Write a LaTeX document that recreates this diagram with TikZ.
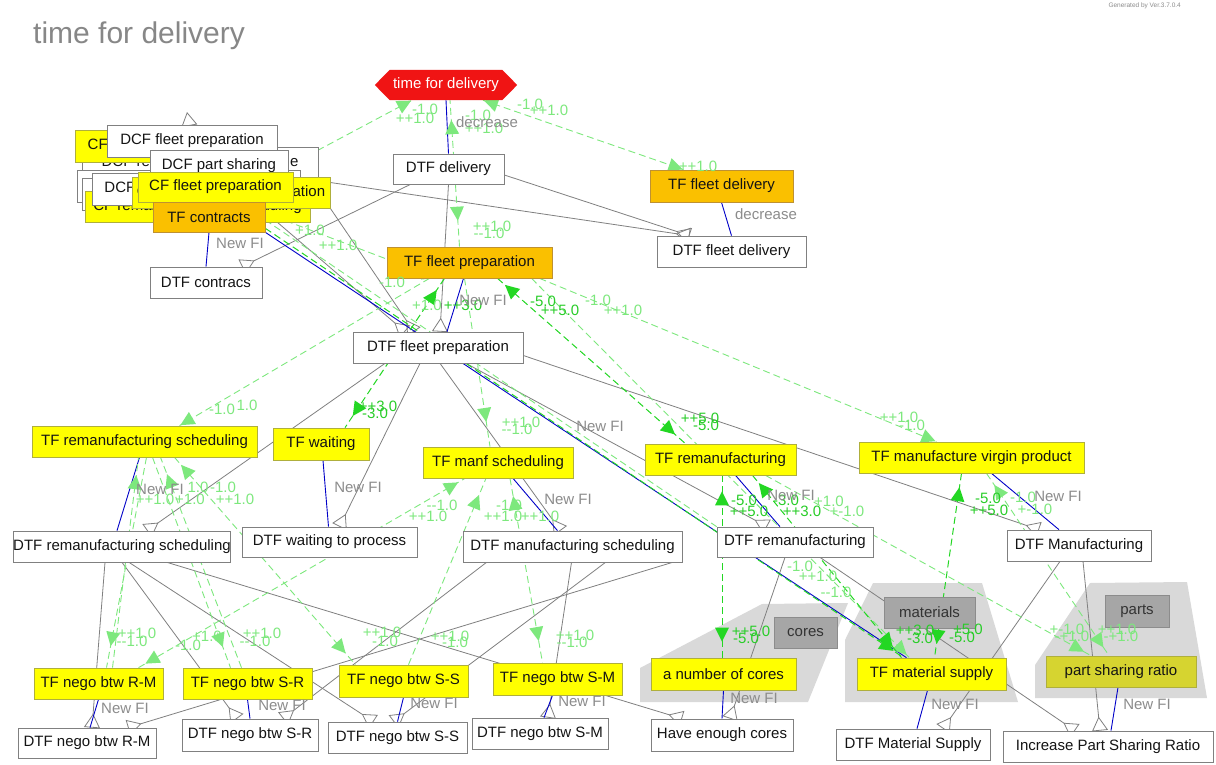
\documentclass[tikz,border=0pt]{standalone}
\usepackage{fontspec}
\setmainfont{Liberation Sans}
\usetikzlibrary{arrows.meta,decorations.markings}
\pgfdeclarelayer{grouplayer}
\pgfdeclarelayer{edgelayer}
\pgfdeclarelayer{hexlayer}
\pgfsetlayers{grouplayer,edgelayer,hexlayer,main}
\definecolor{yel}{RGB}{255,255,0}
\definecolor{yelb}{RGB}{175,175,60}
\definecolor{org}{RGB}{250,192,0}
\definecolor{orgb}{RGB}{190,145,50}
\definecolor{olive}{RGB}{214,212,48}
\definecolor{boxb}{RGB}{128,128,128}
\definecolor{edgegray}{RGB}{128,128,128}
\definecolor{fiblue}{RGB}{0,0,200}
\definecolor{lgr}{RGB}{125,232,125}
\definecolor{bgr}{RGB}{35,215,35}
\definecolor{bgrtxt}{RGB}{40,205,40}
\definecolor{labgray}{RGB}{140,140,140}
\definecolor{grp}{RGB}{217,217,217}
\definecolor{grpbox}{RGB}{166,166,166}
\definecolor{grpboxb}{RGB}{140,140,140}
\definecolor{hexred}{RGB}{240,20,20}
\definecolor{titlegray}{RGB}{135,135,135}
\newcommand\ndfont{\fontsize{15}{17}\selectfont}
\newcommand\lab[4]{\node[#1] (#2) at (#3) {#4};}
\tikzset{
  box/.style={draw=boxb, line width=0.7pt, inner sep=0pt, minimum height=31pt, font=\ndfont, text=black!92},
  wbox/.style={box, fill=white},
  ybox/.style={box, fill=yel, draw=yelb},
  obox/.style={box, fill=org, draw=orgb},
  pbox/.style={box, fill=olive, draw=yelb},
  gbox/.style={box, fill=grpbox, draw=grpboxb, text=black!80},
  blueln/.style={draw=fiblue, line width=0.9pt},
  grayln/.style={draw=edgegray, line width=0.8pt, -{Triangle[open,reversed,length=14pt,width=16pt]}},
  lgln/.style={color=lgr, line width=0.9pt, dash pattern=on 7pt off 4pt},
  bgln/.style={color=bgr, line width=1pt, dash pattern=on 7pt off 4pt},
  tipE/.style={postaction={decorate,decoration={markings,mark=at position -#1 with {\fill (0pt,0pt)--(-14pt,7pt)--(-14pt,-7pt)--cycle;}}}},
  tipE/.default=1pt,
  tipS/.style={postaction={decorate,decoration={markings,mark=at position #1 with {\fill (0pt,0pt)--(14pt,7pt)--(14pt,-7pt)--cycle;}}}},
  tipS/.default=1pt,
  glab/.style={text=lgr, font=\ndfont, inner sep=0pt},
  blab/.style={text=bgrtxt, font=\ndfont, inner sep=0pt},
  nlab/.style={text=labgray, font=\ndfont, inner sep=0pt}
}
\begin{document}
\begin{tikzpicture}[x=1pt,y=-1pt]
\useasboundingbox (0,0) rectangle (1216,764);

% ---------- background and grouping areas ----------
\begin{pgfonlayer}{grouplayer}
  \fill[white] (0,0) rectangle (1216,764);
  \fill[grp] (640,668) -- (762,604) -- (848,603) -- (808,702) -- (640,702) -- cycle;
  \fill[grp] (845,702) -- (845,640) -- (873,583) -- (982,583) -- (1018,702) -- cycle;
  \fill[grp] (1035,698) -- (1035,665) -- (1090,583) -- (1187,582) -- (1207,698) -- cycle;
\end{pgfonlayer}

% ---------- title ----------
\node[anchor=base west, inner sep=0pt, text=titlegray, font=\fontsize{30}{32}\selectfont] (title) at (33,43) {time for delivery};
\node[anchor=north east, inner sep=0pt, text=labgray, font=\fontsize{6.5}{7}\selectfont] (gen) at (1181,3) {Generated by Ver.3.7.0.4};

% ---------- root goal ----------
\node[inner sep=0pt, minimum width=112pt, minimum height=30pt, text=white, font=\ndfont] (tfd) at (446,85) {time for delivery};

% ---------- upper cluster ----------
\node[wbox, minimum width=236pt] (dcfrc) at (200,162.5) {DCF remanufacturing change};
\node[ybox, minimum width=158pt, minimum height=32pt] (cfrem) at (154,146) {CF remanufacturing};
\node[wbox, minimum width=223pt, minimum height=32pt] (dcfms) at (188.5,186) {DCF manufacturing scheduling};
\node[wbox, minimum width=218pt, minimum height=32pt] (dcfcon) at (191,194) {DCF contracts};
\node[ybox, minimum width=225pt] (cfrs) at (197.5,206.5) {CF remanufacturing scheduling};
\node[wbox, minimum width=180pt, minimum height=32pt] (dcfwp) at (182,189) {DCF waiting to process};
\node[ybox, minimum width=198pt] (cffdp) at (231,192.5) {CF fleet delivery preparation};
\node[wbox, minimum width=170pt, minimum height=32pt] (dcffp) at (192,141) {DCF fleet preparation};
\node[wbox, minimum width=138pt, minimum height=32pt] (dcfps) at (219,166) {DCF part sharing};
\node[ybox, minimum width=155pt, minimum height=30pt] (cffp) at (215.5,187) {CF fleet preparation};
\node[obox, minimum width=112pt, minimum height=30pt] (tfcon) at (209,217) {TF contracts};

% ---------- upper levels ----------
\node[wbox, minimum width=111pt, minimum height=30pt] (dtfdel) at (448.5,169) {DTF delivery};
\node[obox, minimum width=143pt, minimum height=32pt] (tffd) at (721.5,186) {TF fleet delivery};
\node[wbox, minimum width=149pt] (dtffd) at (731.5,251.5) {DTF fleet delivery};
\node[wbox, minimum width=112pt] (dtfcon) at (206,282.5) {DTF contracs};
\node[obox, minimum width=165pt] (tffp) at (469.5,262.5) {TF fleet preparation};
\node[wbox, minimum width=170pt] (dtffp) at (438,347.5) {DTF fleet preparation};

% ---------- middle level ----------
\node[ybox, minimum width=225pt] (tfrs) at (144.5,441.5) {TF remanufacturing scheduling};
\node[ybox, minimum width=96pt, minimum height=32pt] (tfw) at (321,444) {TF waiting};
\node[ybox, minimum width=150pt] (tfms) at (498,462.5) {TF manf scheduling};
\node[ybox, minimum width=151pt] (tfr) at (720.5,459.5) {TF remanufacturing};
\node[ybox, minimum width=225pt] (tfmv) at (971.5,457.5) {TF manufacture virgin product};
\node[wbox, minimum width=210pt] (dtfrs) at (122,546.5) {DTF remanufacturing scheduling};
\node[wbox, minimum width=175pt, minimum height=30pt] (dtfw) at (329.5,542) {DTF waiting to process};
\node[wbox, minimum width=219pt] (dtfms) at (572.5,546.5) {DTF manufacturing scheduling};
\node[wbox, minimum width=156pt, minimum height=30pt] (dtfr) at (795,542) {DTF remanufacturing};
\node[wbox, minimum width=144pt] (dtfm) at (1079,545.5) {DTF Manufacturing};

% ---------- group tags ----------
\node[gbox, minimum width=63pt] (gcores) at (805.5,632.5) {cores};
\node[gbox, minimum width=91pt] (gmat) at (929.5,612.5) {materials};
\node[gbox, minimum width=64pt, minimum height=32pt] (gparts) at (1137,611) {parts};

% ---------- lower level ----------
\node[ybox, minimum width=129pt] (tfnrm) at (98.5,683.5) {TF nego btw R-M};
\node[ybox, minimum width=129pt] (tfnsr) at (247.5,683.5) {TF nego btw S-R};
\node[ybox, minimum width=129pt, minimum height=32pt] (tfnss) at (403.5,681) {TF nego btw S-S};
\node[ybox, minimum width=129pt, minimum height=32pt] (tfnsm) at (557.5,679) {TF nego btw S-M};
\node[ybox, minimum width=145pt, minimum height=32pt] (tfcores) at (723.5,674) {a number of cores};
\node[ybox, minimum width=149pt, minimum height=32pt] (tfmsup) at (931.5,674) {TF material supply};
\node[pbox, minimum width=150pt] (psr) at (1121,671.5) {part sharing ratio};
\node[wbox, minimum width=138pt, minimum height=30pt] (dtfnrm) at (87,743) {DTF nego btw R-M};
\node[wbox, minimum width=136pt, minimum height=32pt] (dtfnsr) at (250,735) {DTF nego btw S-R};
\node[wbox, minimum width=139pt] (dtfnss) at (397.5,737.5) {DTF nego btw S-S};
\node[wbox, minimum width=136pt] (dtfnsm) at (540,733.5) {DTF nego btw S-M};
\node[wbox, minimum width=142pt, minimum height=32pt] (hec) at (722,735) {Have enough cores};
\node[wbox, minimum width=154pt] (dtfmsup) at (913,744.5) {DTF Material Supply};
\node[wbox, minimum width=210pt] (ipsr) at (1108,746.5) {Increase Part Sharing Ratio};

\coordinate (ctop) at (187,112);

% ---------- red hexagon behind the root label ----------
\begin{pgfonlayer}{hexlayer}
  \fill[hexred] (tfd.north west) -- (tfd.north east) -- ([xshift=15pt]tfd.east) -- (tfd.south east) -- (tfd.south west) -- ([xshift=-15pt]tfd.west) -- cycle;
\end{pgfonlayer}

\begin{pgfonlayer}{edgelayer}
% ---------- refinement links (grey, open triangle) ----------
\draw[grayln] ([xshift=-38pt]dtfdel.south) -- ([xshift=36pt]dtfcon.north);
\draw[grayln] ([yshift=10pt]cffdp.east) -- ([xshift=-42pt]dtffd.north);
\draw[grayln] ([yshift=-6pt]dtfdel.east) -- ([xshift=-42pt]dtffd.north);
\draw[grayln] (dtfdel.south) -- ([xshift=2pt]dtffp.north);
\draw[grayln] ([yshift=5pt]tfcon.east) -- ([xshift=-33pt]dtffp.north);
\draw[grayln] (cffdp.south east) -- ([xshift=-24pt]dtffp.north);
\draw[draw=edgegray, line width=0.8pt, -{Triangle[open,length=14pt,width=16pt]}] (dcffp.center) -- (ctop);
\draw[grayln] ([xshift=-53pt]dtffp.south) -- ([xshift=25pt]dtfrs.north);
\draw[grayln] ([xshift=-18pt]dtffp.south) -- ([xshift=10pt]dtfw.north);
\draw[grayln] ([xshift=2pt]dtffp.south) -- ([xshift=-12pt]dtfms.north);
\draw[grayln] ([xshift=28pt]dtffp.south) -- ([xshift=-28pt]dtfr.north);
\draw[grayln] ([yshift=-8pt]dtffp.east) -- ([xshift=-40pt]dtfm.north);
\draw[grayln] ([xshift=-17pt]dtfrs.south) -- ([xshift=5pt]dtfnrm.north);
\draw[grayln] (dtfrs.south) -- ([xshift=-13pt]dtfnsr.north);
\draw[grayln] ([xshift=7pt]dtfrs.south) -- ([xshift=-24pt]dtfnss.north);
\draw[grayln] ([xshift=45pt]dtfrs.south) -- ([xshift=-40pt]hec.north);
\draw[grayln] ([xshift=-86pt]dtfms.south) -- ([xshift=33pt]dtfnsr.north);
\draw[grayln] ([xshift=100pt]dtfms.south) -- ([xshift=41pt]dtfnrm.north);
\draw[grayln] ([xshift=33pt]dtfms.south) -- ([xshift=-4pt]dtfnss.north);
\draw[grayln] ([xshift=-1pt]dtfms.south) -- ([xshift=8pt]dtfnsm.north);
\draw[grayln] ([xshift=-10pt]dtfr.south) -- ([xshift=8pt]hec.north);
\draw[grayln] ([xshift=25pt]dtfr.south) -- ([xshift=-33pt]ipsr.north);
\draw[grayln] ([xshift=-19pt]dtfm.south) -- ([xshift=30pt]dtfmsup.north);
\draw[grayln] ([xshift=4pt]dtfm.south) -- ([xshift=-8pt]ipsr.north);

% ---------- operationalisation links (blue) ----------
\draw[blueln] (tfd.south) -- (dtfdel.north);
\draw[blueln] (tffd.south) -- (dtffd.north);
\draw[blueln] (tfcon.south) -- (dtfcon.north);
\draw[blueln] ([xshift=-6pt]tffp.south) -- ([xshift=9pt]dtffp.north);
\draw[blueln] (tfcon.south east) -- ([xshift=-25pt]tfmsup.north);
\draw[blueln] ([xshift=15pt]tfms.south) -- ([xshift=-15pt]dtfms.north);
\draw[blueln] ([xshift=15pt]tfr.south) -- ([xshift=-15pt]dtfr.north);
\draw[blueln] ([xshift=20pt]tfmv.south) -- ([xshift=-20pt]dtfm.north);
\draw[blueln] ([xshift=-5pt]tfrs.south) -- ([xshift=-5pt]dtfrs.north);
\draw[blueln] ([xshift=2pt]tfw.south) -- ([xshift=-1pt]dtfw.north);
\draw[blueln] (tfnrm.south) -- ([xshift=3pt]dtfnrm.north);
\draw[blueln] (tfnsr.south) -- (dtfnsr.north);
\draw[blueln] (tfnss.south) -- (dtfnss.north);
\draw[blueln] ([xshift=-5pt]tfnsm.south) -- ([xshift=4pt]dtfnsm.north);
\draw[blueln] (tfcores.south) -- (hec.north);
\draw[blueln] ([xshift=-4pt]tfmsup.south) -- ([xshift=4pt]dtfmsup.north);
\draw[blueln] ([xshift=-3pt]psr.south) -- ([xshift=3pt]ipsr.north);

% ---------- contribution links (light green, weight 1) ----------
\draw[lgln, tipE] (dcfps.east) -- ([xshift=-34pt]tfd.south);
\draw[lgln, tipE, tipS] ([xshift=37pt]tfd.south) -- ([xshift=-38pt]tffd.north);
\draw[lgln, tipE=20pt, tipS=26pt] ([xshift=-10pt]tffp.north) -- ([xshift=4pt]tfd.south);
\draw[lgln, tipE] ([yshift=4pt]tfcon.east) -- ([xshift=-32pt]tffp.south);
\draw[lgln] ([yshift=-3pt]tfcon.east) -- (dtfr.north west);
\draw[lgln, tipE] ([xshift=-40pt]tffp.south) -- ([xshift=35pt]tfrs.north);
\draw[lgln, tipE=25pt] ([xshift=-5pt]tffp.south) -- ([xshift=-8pt]tfms.north);
\draw[lgln, tipE] ([xshift=70pt]tffp.south) -- ([xshift=-35pt]tfmv.north);
\draw[lgln, tipE=4pt] ([xshift=62pt]tffp.south) -- ([xshift=-22pt]tfmsup.north);
\draw[lgln, tipE=22pt] ([xshift=2pt]tfrs.south) -- ([xshift=8pt]tfnrm.north);
\draw[lgln, tipE=18pt] ([xshift=14pt]tfnrm.north) -- ([xshift=-6pt]tfrs.south);
\draw[lgln, tipE=22pt] ([xshift=8pt]tfrs.south) -- ([xshift=-17pt]tfnsr.north);
\draw[lgln, tipE=18pt] ([xshift=-6pt]tfnsr.north) -- ([xshift=16pt]tfrs.south);
\draw[lgln, tipE=15pt, tipS=10pt] ([xshift=30pt]tfrs.south) -- ([xshift=-48pt]tfnss.north);
\draw[lgln, tipE=8pt, tipS=8pt] ([xshift=40pt]tfnrm.north) -- ([xshift=-33pt]tfms.south);
\draw[lgln, tipE=18pt] ([xshift=5pt]tfnss.north) -- ([xshift=-12pt]tfms.south);
\draw[lgln, tipE=22pt, tipS=18pt] ([xshift=12pt]tfms.south) -- ([xshift=-15pt]tfnsm.north);
\draw[lgln, tipE=8pt] ([xshift=45pt]tfr.south) -- ([xshift=-30pt]psr.north);
\draw[lgln, tipE=10pt, tipS=14pt] ([xshift=15pt]tfmv.south) -- ([xshift=-12pt]psr.north);

% ---------- contribution links (bright green, weight 3 and 5) ----------
\draw[bgln, tipE=14pt, tipS=14pt] ([xshift=-25pt]tffp.south) -- ([xshift=24pt]tfw.north);
\draw[bgln, tipE=14pt, tipS=10pt] ([xshift=28pt]tffp.south) -- ([xshift=-35pt]tfr.north);
\draw[bgln, tipE=16pt, tipS=16pt] ([xshift=1.5pt]tfr.south) -- ([xshift=-1.5pt]tfcores.north);
\draw[bgln, tipE=14pt, tipS=10pt] ([xshift=32pt]tfr.south) -- ([xshift=-30pt]tfmsup.north);
\draw[bgln, tipE=14pt, tipS=14pt] ([xshift=-10pt]tfmv.south) -- ([xshift=3pt]tfmsup.north);
\draw[bgln, tipE=12pt] ([yshift=4pt]tfcon.south east) -- ([xshift=-28pt]tfmsup.north);
\end{pgfonlayer}

% ---------- link labels ----------
\lab{glab}{la1}{415,118}{++1.0}
\lab{glab}{la2}{425,109}{-1.0}
\lab{glab}{la3}{530,104}{-1.0}
\lab{glab}{la4}{549,110}{++1.0}
\lab{glab}{la5}{698,166}{++1.0}
\lab{glab}{la6}{478,115}{-1.0}
\lab{glab}{la7}{484,128}{++1.0}
\lab{glab}{la8}{492,226}{++1.0}
\lab{glab}{la9}{489,233}{-{}-1.0}
\lab{glab}{la10}{310,230}{+1.0}
\lab{glab}{la11}{338,245}{++1.0}
\lab{glab}{la12}{392,282}{-1.0}
\lab{glab}{la13}{427,305}{+1.0}
\lab{glab}{la14}{222,409}{-1.0}
\lab{glab}{la15}{247,405}{1.0}
\lab{glab}{la16}{521,422}{++1.0}
\lab{glab}{la17}{517,429}{-{}-1.0}
\lab{glab}{la18}{598,300}{-1.0}
\lab{glab}{la19}{623,310}{++1.0}
\lab{glab}{la20}{899,417}{++1.0}
\lab{glab}{la21}{912,425}{-1.0}
\lab{glab}{la22}{800,566}{-1.0}
\lab{glab}{la23}{818,576}{++1.0}
\lab{glab}{la24}{836,592}{-{}-1.0}
\lab{glab}{la25}{137,633}{++1.0}
\lab{glab}{la26}{132,641}{-{}-1.0}
\lab{glab}{la27}{262,633}{++1.0}
\lab{glab}{la28}{255,641}{-{}-1.0}
\lab{glab}{la29}{207,636}{+1.0}
\lab{glab}{la30}{188,645}{-1.0}
\lab{glab}{la31}{198,487}{1.0}
\lab{glab}{la32}{223,487}{-1.0}
\lab{glab}{la33}{155,499}{++1.0}
\lab{glab}{la34}{190,499}{+1.0}
\lab{glab}{la35}{235,499}{++1.0}
\lab{glab}{la36}{382,632}{++1.0}
\lab{glab}{la37}{385,641}{-1.0}
\lab{glab}{la38}{442,505}{-{}-1.0}
\lab{glab}{la39}{428,516}{++1.0}
\lab{glab}{la40}{450,636}{++1.0}
\lab{glab}{la41}{455,642}{-1.0}
\lab{glab}{la42}{503,516}{++1.0}
\lab{glab}{la43}{540,516}{++1.0}
\lab{glab}{la44}{509,505}{-1.0}
\lab{glab}{la45}{575,635}{++1.0}
\lab{glab}{la46}{572,642}{-{}-1.0}
\lab{glab}{la47}{829,501}{+1.0}
\lab{glab}{la48}{847,511}{+-1.0}
\lab{glab}{la49}{1023,497}{-1.0}
\lab{glab}{la50}{1035,509}{+-1.0}
\lab{glab}{la51}{1067,629}{+-1.0}
\lab{glab}{la52}{1072,636}{-+1.0}
\lab{glab}{la53}{1117,629}{++1.0}
\lab{glab}{la54}{1121,636}{-+1.0}

\lab{blab}{lb1}{378,406}{++3.0}
\lab{blab}{lb2}{375,413}{-3.0}
\lab{blab}{lb3}{463,305}{++3.0}
\lab{blab}{lb4}{543,301}{-5.0}
\lab{blab}{lb5}{560,310}{++5.0}
\lab{blab}{lb6}{700,418}{++5.0}
\lab{blab}{lb7}{706,425}{-5.0}
\lab{blab}{lb8}{744,500}{-5.0}
\lab{blab}{lb9}{749,511}{++5.0}
\lab{blab}{lb10}{751,631}{++5.0}
\lab{blab}{lb11}{746,638}{-5.0}
\lab{blab}{lb12}{786,500}{-3.0}
\lab{blab}{lb13}{802,511}{++3.0}
\lab{blab}{lb14}{915,630}{++3.0}
\lab{blab}{lb15}{920,638}{-3.0}
\lab{blab}{lb16}{988,498}{-5.0}
\lab{blab}{lb17}{989,510}{++5.0}
\lab{blab}{lb18}{968,629}{+5.0}
\lab{blab}{lb19}{962,637}{-5.0}

\lab{nlab}{ln1}{487,122}{decrease}
\lab{nlab}{ln2}{766,214}{decrease}
\lab{nlab}{ln3}{240,243}{New FI}
\lab{nlab}{ln4}{483,300}{New FI}
\lab{nlab}{ln5}{358,487}{New FI}
\lab{nlab}{ln6}{568,499}{New FI}
\lab{nlab}{ln7}{600,426}{New FI}
\lab{nlab}{ln8}{160,489}{New FI}
\lab{nlab}{ln9}{791,495}{New FI}
\lab{nlab}{ln10}{1058,496}{New FI}
\lab{nlab}{ln11}{125,708}{New FI}
\lab{nlab}{ln12}{282,705}{New FI}
\lab{nlab}{ln13}{434,703}{New FI}
\lab{nlab}{ln14}{582,701}{New FI}
\lab{nlab}{ln15}{754,698}{New FI}
\lab{nlab}{ln16}{955,704}{New FI}
\lab{nlab}{ln17}{1147,704}{New FI}
\end{tikzpicture}
\end{document}
